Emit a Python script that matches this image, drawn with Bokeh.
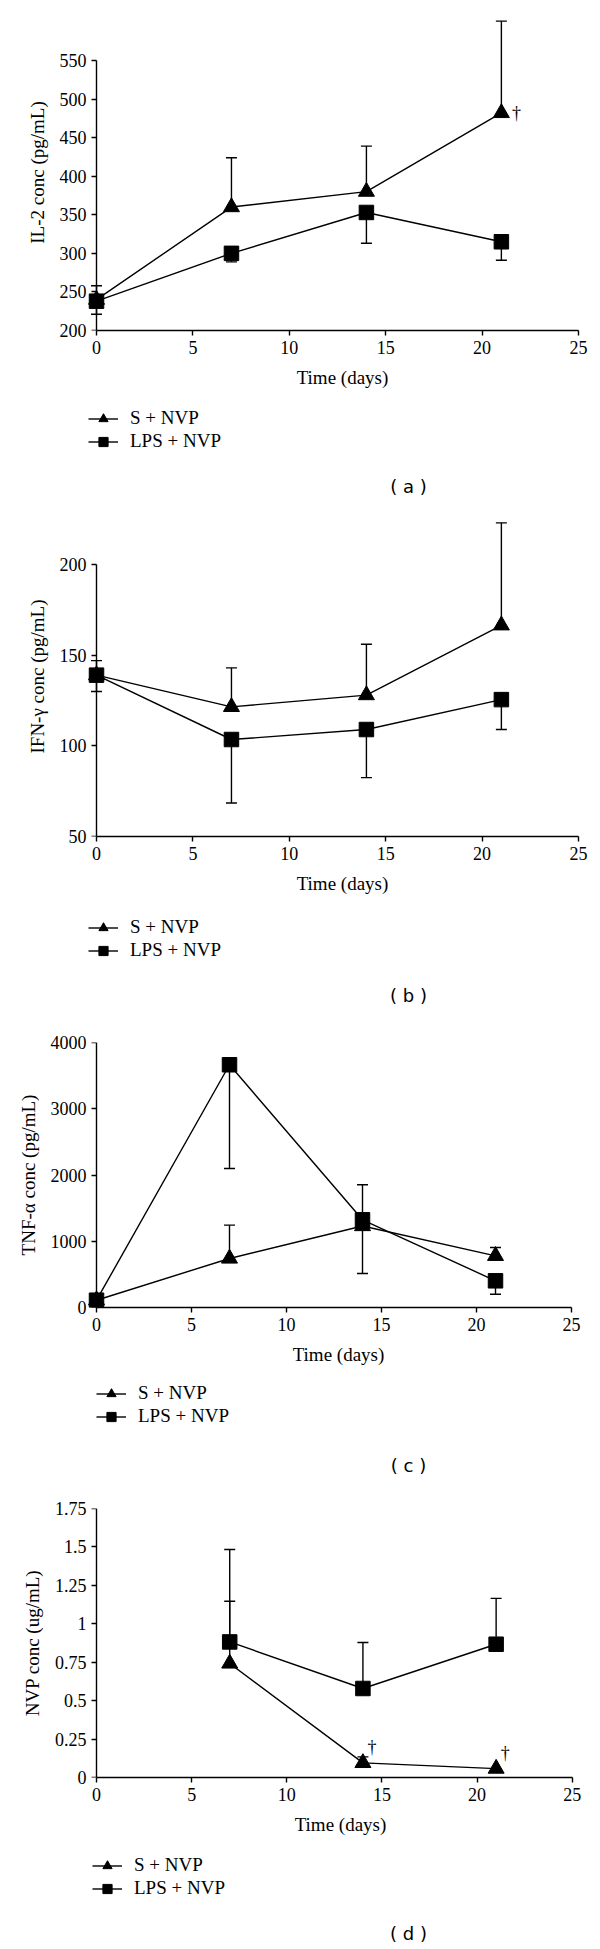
from bokeh.plotting import figure
from bokeh.layouts import column
from bokeh.models import (Range1d, FixedTicker, NumeralTickFormatter, Whisker, TeeHead,
                          ColumnDataSource, Legend, LegendItem, Label, LinearAxis)
from bokeh.core.properties import value
from bokeh.embed import file_html
from bokeh.resources import INLINE

# ---------------- data ----------------
days = [0, 7, 14, 21]
nvp_days = [7, 14, 21]
x_ticks = [0, 5, 10, 15, 20, 25]

il2_s = [240, 360, 380, 482]
il2_s_upper = [258, 424, 439, 601]
il2_lps = [238, 300, 353, 315]
il2_lps_lower = [221, 289, 313, 291]
il2_ticks = [200, 250, 300, 350, 400, 450, 500, 550]
il2_s_flag_days = [21]

ifn_s = [139, 121.5, 128, 166.5]
ifn_s_upper = [147, 143, 156, 223]
ifn_lps = [139, 103.5, 109, 125.5]
ifn_lps_lower = [130, 68.5, 82.5, 109]
ifn_ticks = [50, 100, 150, 200]

tnf_s = [110, 740, 1230, 780]
tnf_s_upper = [110, 1243, 1852, 906]
tnf_lps = [110, 3664, 1324, 403]
tnf_lps_lower = [110, 2098, 513, 201]
tnf_ticks = [0, 1000, 2000, 3000, 4000]

nvp_s = [0.742, 0.095, 0.058]
nvp_s_upper = [1.147, 0.134, 0.058]
nvp_lps = [0.882, 0.579, 0.867]
nvp_lps_upper = [1.483, 0.878, 1.165]
nvp_ticks = [0, 0.25, 0.5, 0.75, 1, 1.25, 1.5, 1.75]
nvp_s_flag_days = [14, 21]

series_names = ["S + NVP", "LPS + NVP"]
x_label = "Time (days)"

SERIF = "Liberation Serif"
FIG_W = 600
LW = 1.4


def style_axis(ax):
    ax.axis_line_color = "black"
    ax.axis_line_width = LW
    ax.major_tick_line_color = "black"
    ax.major_tick_line_width = LW
    ax.minor_tick_line_color = None
    ax.major_label_text_font = SERIF
    ax.major_label_text_font_size = "18px"
    ax.major_label_text_color = "black"
    ax.axis_label_text_font = SERIF
    ax.axis_label_text_font_size = "19px"
    ax.axis_label_text_font_style = "normal"
    ax.axis_label_text_color = "black"


def make_plot(ylabel, x, s, s_lo, s_hi, l, l_lo, l_hi, yticks, yfmt, y_range,
              flag_days, flag_off, lay):
    x0 = lay["x0"]; sc = lay["xscale"]
    mbl = x0 - 10
    mbr = 10
    fw = FIG_W - mbl - mbr
    xs = (mbl - x0) / sc
    xe = xs + fw / sc
    p = figure(frame_width=int(round(fw)), frame_height=lay["fh"],
               min_border_left=int(round(mbl)), min_border_right=mbr,
               min_border_top=lay["top"], min_border_bottom=64,
               x_range=Range1d(xs, xe), y_range=Range1d(*y_range),
               output_backend="svg", toolbar_location=None,
               background_fill_color="white", border_fill_color="white")
    p.outline_line_color = None
    p.xgrid.grid_line_color = None
    p.ygrid.grid_line_color = None

    xa = p.xaxis[0]
    style_axis(xa)
    xa.major_tick_out = 5
    xa.major_tick_in = 0
    xa.major_label_standoff = 5
    xa.ticker = FixedTicker(ticks=x_ticks)
    xa.bounds = (x_ticks[0], x_ticks[-1])
    xa.axis_label = x_label
    xa.axis_label_standoff = 10

    ya = p.yaxis[0]
    style_axis(ya)
    ya.axis_line_color = None
    ya.major_tick_line_color = None
    ya.major_tick_out = 0
    ya.major_tick_in = 0
    ya.major_label_standoff = 0
    ya.ticker = FixedTicker(ticks=yticks)
    ya.bounds = (yticks[0], yticks[-1])
    ya.formatter = NumeralTickFormatter(format=yfmt)
    ya.axis_label = ylabel
    ya.axis_label_standoff = 9

    yl = LinearAxis(fixed_location=0, ticker=FixedTicker(ticks=yticks),
                    bounds=(yticks[0], yticks[-1]),
                    major_label_overrides={t: "" for t in yticks})
    style_axis(yl)
    yl.major_tick_in = 5
    yl.major_tick_out = 0
    yl.major_label_standoff = 0
    p.add_layout(yl, "right")

    p.line(x, s, line_color="black", line_width=LW)
    p.scatter(x, s, marker="triangle", size=16, fill_color="black", line_color="black")
    p.line(x, l, line_color="black", line_width=LW)
    p.scatter(x, l, marker="square", size=14.5, fill_color="black", line_color="black")

    src_s = ColumnDataSource(dict(x=x, lo=s_lo, hi=s_hi))
    src_l = ColumnDataSource(dict(x=x, lo=l_lo, hi=l_hi))
    p.add_layout(Whisker(source=src_s, base="x", lower="lo", upper="hi", dimension="height",
                         line_color="black", line_width=LW,
                         upper_head=TeeHead(size=11, line_color="black", line_width=LW),
                         lower_head=None))
    if l_lo == l:
        heads = dict(upper_head=TeeHead(size=11, line_color="black", line_width=LW), lower_head=None)
    else:
        heads = dict(lower_head=TeeHead(size=11, line_color="black", line_width=LW), upper_head=None)
    p.add_layout(Whisker(source=src_l, base="x", lower="lo", upper="hi", dimension="height",
                         line_color="black", line_width=LW, **heads))

    if flag_days:
        fy = [s[x.index(d)] for d in flag_days]
        p.text(flag_days, fy, text=["\u2020"] * len(flag_days),
               x_offset=flag_off[0], y_offset=flag_off[1],
               text_font=value(SERIF), text_font_size="18px", text_color="#000000",
               text_align="center", text_baseline="middle")
    return p


def make_strip(caption, x, s, l, lay):
    H = lay["H"]
    q = figure(frame_width=FIG_W, frame_height=H, min_border=0,
               x_axis_location=None, y_axis_location=None,
               x_range=Range1d(-1, 0), y_range=Range1d(-1, 0),
               output_backend="svg", toolbar_location=None,
               background_fill_color="white", border_fill_color="white")
    q.outline_line_color = None
    q.xgrid.grid_line_color = None
    q.ygrid.grid_line_color = None
    # same series (outside this strip's view) -> only their legend glyphs show
    l1 = q.line(x, s, line_color="black", line_width=LW)
    m1 = q.scatter(x, s, marker="triangle", size=10, fill_color="black", line_color="black")
    l2 = q.line(x, l, line_color="black", line_width=LW)
    m2 = q.scatter(x, l, marker="square", size=8, fill_color="black", line_color="black")
    r = lay["row1"]
    legend = Legend(items=[LegendItem(label=series_names[0], renderers=[l1, m1]),
                           LegendItem(label=series_names[1], renderers=[l2, m2])],
                    location=(lay["x0"], H - r - 34.5),
                    orientation="vertical", padding=0, margin=0, spacing=0,
                    glyph_width=30, glyph_height=23, label_height=23, label_standoff=12,
                    label_text_font=SERIF, label_text_font_size="19px", label_text_color="black",
                    border_line_color=None, background_fill_alpha=0)
    q.add_layout(legend)
    q.add_layout(Label(x=322, y=H - lay["cap"], x_units="screen", y_units="screen",
                       text=caption, text_font="DejaVu Sans", text_font_size="18px",
                       text_color="black", text_align="center", text_baseline="middle"))
    return q


pa = make_plot("IL-2 conc (pg/mL)", days, il2_s, il2_s, il2_s_upper,
               il2_lps, il2_lps_lower, il2_lps, il2_ticks, "0", (200, 609.6),
               il2_s_flag_days, (15, 0), dict(x0=88, xscale=19.28, fh=316, top=14))
sa = make_strip("( a )", days, il2_s, il2_lps, dict(H=116, x0=88, row1=24, cap=92))

pb = make_plot("IFN-\u03b3 conc (pg/mL)", days, ifn_s, ifn_s, ifn_s_upper,
               ifn_lps, ifn_lps_lower, ifn_lps, ifn_ticks, "0", (50, 226.5),
               [], (0, 0), dict(x0=88, xscale=19.28, fh=320, top=6))
sb = make_strip("( b )", days, ifn_s, ifn_lps, dict(H=132, x0=88, row1=27, cap=95))

pc = make_plot("TNF-\u03b1 conc (pg/mL)", days, tnf_s, tnf_s, tnf_s_upper,
               tnf_lps, tnf_lps_lower, tnf_lps, tnf_ticks, "0", (0, 4000),
               [], (0, 0), dict(x0=96, xscale=19.0, fh=265, top=10))
sc_ = make_strip("( c )", days, tnf_s, tnf_lps, dict(H=127, x0=96, row1=22, cap=94))

pd_ = make_plot("NVP conc (ug/mL)", nvp_days, nvp_s, nvp_s, nvp_s_upper,
                nvp_lps, nvp_lps, nvp_lps_upper, nvp_ticks, "0.[00]", (0, 1.75),
                nvp_s_flag_days, (9, -16), dict(x0=92, xscale=19.03, fh=269, top=10))
sd = make_strip("( d )", nvp_days, nvp_s, nvp_lps, dict(H=108, x0=92, row1=24, cap=92))

layout = column(pa, sa, pb, sb, pc, sc_, pd_, sd, spacing=0)
open("out.html", "w").write(file_html(layout, INLINE))
